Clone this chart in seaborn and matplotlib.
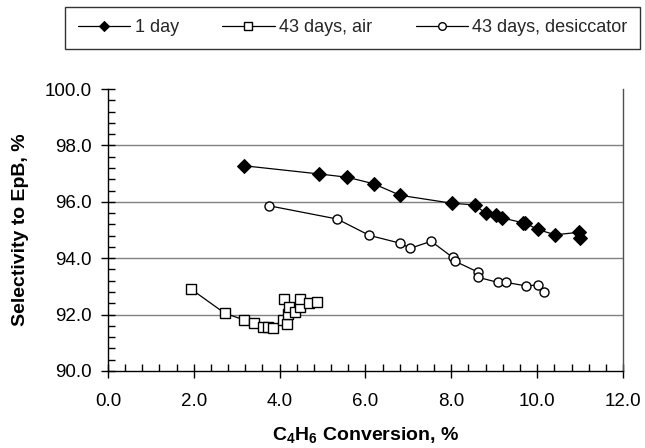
import matplotlib
matplotlib.use("Agg")
import matplotlib.pyplot as plt
from matplotlib.ticker import MultipleLocator, FormatStrFormatter
import seaborn as sns
import pandas as pd

# Selectivity vs. conversion for the three catalyst samples
day1_conv = [3.16, 4.91, 5.58, 6.19, 6.81, 8.01, 8.54, 8.81, 9.04, 9.18, 9.66, 9.71, 10.01, 10.42, 10.98, 11.00]
day1_sel = [97.28, 96.99, 96.87, 96.64, 96.23, 95.95, 95.89, 95.59, 95.54, 95.43, 95.26, 95.26, 95.02, 94.83, 94.92, 94.72]

air_conv = [1.93, 2.72, 3.17, 3.40, 3.61, 3.73, 3.84, 4.08, 4.17, 4.19, 4.09, 4.22, 4.35, 4.47, 4.47, 4.68, 4.88]
air_sel = [92.91, 92.05, 91.81, 91.69, 91.57, 91.57, 91.51, 91.81, 91.66, 92.01, 92.55, 92.26, 92.08, 92.26, 92.55, 92.40, 92.46]

des_conv = [3.75, 5.34, 6.09, 6.81, 7.04, 7.53, 8.03, 8.09, 8.63, 8.63, 9.09, 9.27, 9.74, 10.02, 10.15]
des_sel = [95.86, 95.39, 94.81, 94.53, 94.35, 94.60, 94.03, 93.89, 93.50, 93.32, 93.14, 93.14, 93.02, 93.05, 92.81]

series_names = ["1 day", "43 days, air", "43 days, desiccator"]
x_ticks = [0, 2, 4, 6, 8, 10, 12]
y_ticks = [90, 92, 94, 96, 98, 100]

sns.set_theme(style="white")
plt.rcParams["font.family"] = ["Liberation Sans", "DejaVu Sans"]
plt.rcParams["mathtext.fontset"] = "custom"
plt.rcParams["mathtext.rm"] = "Liberation Sans"
plt.rcParams["mathtext.bf"] = "Liberation Sans:bold"

fig = plt.figure(figsize=(6.45, 4.48), dpi=100)
ax = fig.add_axes([0.1674, 0.1719, 0.7985, 0.6294])

for y in y_ticks[1:-1]:
    ax.axhline(y, color="#808080", lw=1.0, zorder=0)

styles = [
    dict(marker="D", markersize=7.5, markerfacecolor="black", markeredgecolor="black"),
    dict(marker="s", markersize=7, markerfacecolor="white", markeredgecolor="black", markeredgewidth=1.0),
    dict(marker="o", markersize=6.5, markerfacecolor="white", markeredgecolor="black", markeredgewidth=1.0),
]
datasets = [(day1_conv, day1_sel), (air_conv, air_sel), (des_conv, des_sel)]
for name, (xs, ys), st in zip(series_names, datasets, styles):
    df = pd.DataFrame({"conv": xs, "sel": ys})
    sns.lineplot(data=df, x="conv", y="sel", ax=ax, sort=False, estimator=None,
                 color="black", linewidth=0.9, label=name, **st)

ax.set_xlim(0, 12)
ax.set_ylim(90, 100)
ax.set_xticks(x_ticks)
ax.set_yticks(y_ticks)
ax.xaxis.set_minor_locator(MultipleLocator(0.4))
ax.yaxis.set_minor_locator(MultipleLocator(0.4))
ax.xaxis.set_major_formatter(FormatStrFormatter("%.1f"))
ax.yaxis.set_major_formatter(FormatStrFormatter("%.1f"))
ax.tick_params(which="major", direction="inout", length=10, width=1, color="black",
               labelsize=13.5, labelcolor="black")
ax.tick_params(axis="x", which="major", pad=11)
ax.tick_params(axis="y", which="major", pad=7)
ax.tick_params(which="minor", direction="in", length=5, width=1, color="black")
ax.tick_params(axis="x", which="both", bottom=True)
ax.tick_params(axis="y", which="both", left=True)

for side in ["left", "bottom"]:
    ax.spines[side].set_color("black")
    ax.spines[side].set_linewidth(1.0)
ax.spines["right"].set_color("#505050")
ax.spines["right"].set_linewidth(1.0)
ax.spines["top"].set_visible(False)

ax.set_xlabel(r"C$_\mathbf{4}$H$_\mathbf{6}$ Conversion, %", fontsize=14, fontweight="bold",
              color="black", labelpad=11)
ax.set_ylabel("Selectivity to EpB, %", fontsize=14, fontweight="bold", color="black", labelpad=11)

leg = ax.legend(loc="center", bbox_to_anchor=(0.547, 0.9375), bbox_transform=fig.transFigure,
                ncol=3, frameon=True, fancybox=False, fontsize=13, handlelength=2.9,
                columnspacing=2.4, handletextpad=0.25, borderpad=0.7)
leg.get_frame().set_edgecolor("black")
leg.get_frame().set_linewidth(1.0)
for h in leg.legend_handles:
    h.set_markersize(5.5)

fig.savefig("out.png", dpi=100)
